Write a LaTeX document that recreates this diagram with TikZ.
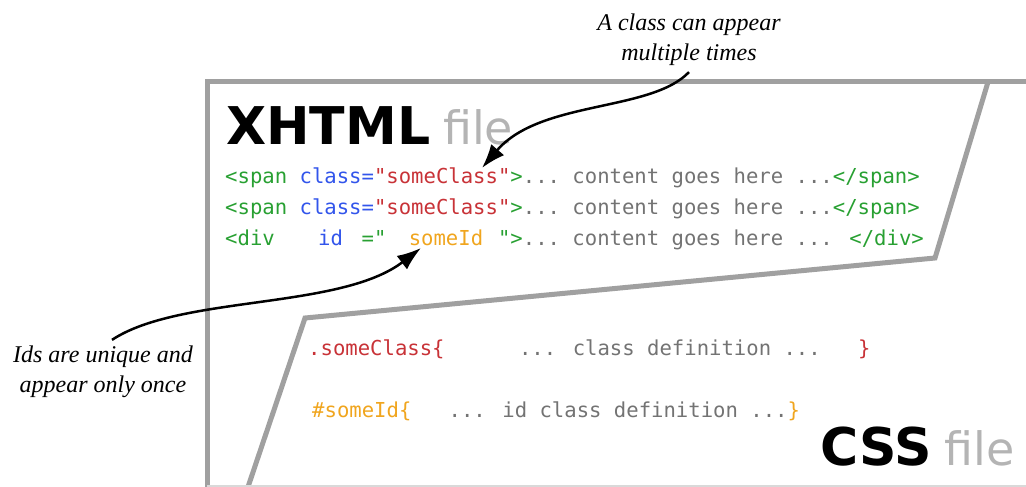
\documentclass[tikz,border=0pt]{standalone}
\usepackage{fontspec}
\newfontfamily\codefont{DejaVu Sans Mono}[Ligatures=TeXOff]
\newfontfamily\headfont{DejaVu Sans}
\newfontfamily\notefont{Liberation Serif}
\usetikzlibrary{arrows.meta}

\newcommand{\blank}[1]{\hspace*{#1\fontdimen2\font}}
\newcommand{\filetag}{\hspace*{13pt}{\mdseries\fontsize{46}{50}\selectfont\color{filecol}file}}

\begin{document}
\begin{tikzpicture}[x=1pt,y=-1pt,>={Latex[length=24pt,width=17pt]}]

\definecolor{tagcol}{RGB}{40,160,50}
\definecolor{attrcol}{RGB}{50,85,235}
\definecolor{classcol}{RGB}{200,50,55}
\definecolor{idcol}{RGB}{240,165,30}
\definecolor{txtcol}{RGB}{115,115,115}
\definecolor{framecol}{RGB}{160,160,160}
\definecolor{filecol}{RGB}{180,180,180}

\tikzset{code/.style={anchor=base west,inner sep=0pt,font=\codefont\fontsize{20.6}{24}\selectfont},
  title/.style={anchor=base west,inner sep=0pt,font=\headfont\fontsize{52}{60}\selectfont},
  note/.style={align=center,inner sep=0pt,font=\notefont\itshape\fontsize{24}{30}\selectfont},
  frame/.style={line width=5pt,color=framecol}}

\useasboundingbox (0,0) rectangle (1026,487);

% the two files
\draw[frame] (207,487) -- (207,82) -- (1026,82);
\draw[frame] (988,82) -- (935,258) -- (305,318) -- (248,487);
\draw[color=black!15,line width=1.5pt] (207,486) -- (1026,486);

\node[title] (xhtml) at (226,144) {\bfseries XHTML\filetag};
\node[title] (css) at (820,465) {\bfseries CSS\filetag};

% xhtml code
\foreach \y in {183,214}
  \node[code] (span\y) at (225,\y) {\color{tagcol}<span \color{attrcol}class=\color{classcol}"someClass"\color{tagcol}>\color{txtcol}...\blank{1}content goes here ...\color{tagcol}</span>};
\node[code] (divline) at (225,245) {\color{tagcol}<div\blank{3.5}\color{attrcol}id\blank{1.5}\color{tagcol}="\blank{1.8}\color{idcol}someId\blank{1.2}\color{tagcol}">\color{txtcol}...\blank{1}content goes here ... \color{tagcol}</div>};

% css code
\node[code] (classdef) at (308,355) {\color{classcol}.someClass\{\blank{6}\color{txtcol}... class definition ...\blank{3}\color{classcol}\}};
\node[code] (iddef) at (312,417) {\color{idcol}\#someId\{\blank{3}\color{txtcol}... id class definition ...\color{idcol}\}};

% notes
\node[note] (classnote) at (689,40) {A class can appear\\multiple times};
\node[note] (idnote) at (103,372) {Ids are unique and\\appear only once};

\coordinate (classtip) at (482,168);
\coordinate (idtip) at (421,248);

\draw[->,line width=2.5pt] ([yshift=-6pt]classnote.south) .. controls +(-38,40) and +(58,-68) .. (classtip);
\draw[->,line width=2.5pt] ([xshift=9pt,yshift=6pt]idnote.north) .. controls +(68,-45) and +(-81,62) .. (idtip);

\end{tikzpicture}
\end{document}
